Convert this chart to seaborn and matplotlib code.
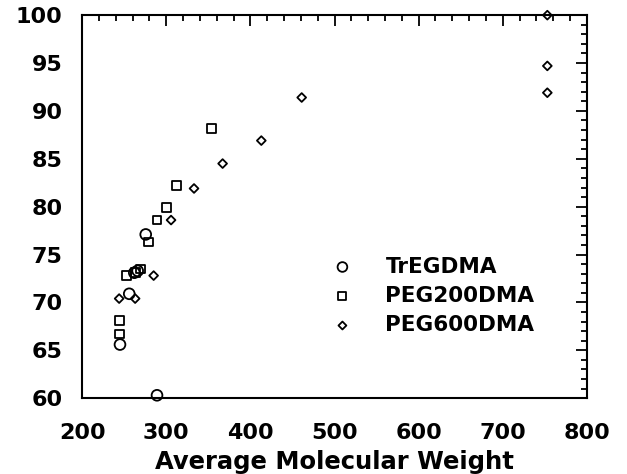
import matplotlib
matplotlib.use("Agg")
import matplotlib.pyplot as plt
import seaborn as sns
import pandas as pd
from matplotlib.ticker import MultipleLocator

# Data
tregdma_mw = [245, 256, 262, 266, 275.6, 289]
tregdma_val = [65.6, 70.9, 73.1, 73.3, 77.1, 60.3]

peg200_mw = [244, 244, 253, 263, 269, 278.8, 289, 300, 312.5, 354]
peg200_val = [66.7, 68.1, 72.8, 73.1, 73.5, 76.3, 78.6, 79.9, 82.2, 88.2]

peg600_mw = [244, 263, 285, 305.7, 333, 367, 413, 461, 753, 753, 753]
peg600_val = [70.4, 70.4, 72.8, 78.6, 81.9, 84.5, 86.9, 91.4, 91.9, 94.7, 100.0]

series_names = ["TrEGDMA", "PEG200DMA", "PEG600DMA"]
x_ticks = [200, 300, 400, 500, 600, 700, 800]
y_ticks = [60, 65, 70, 75, 80, 85, 90, 95, 100]
x_label = "Average Molecular Weight"

sns.set_theme(style="white")
plt.rcParams["font.family"] = ["DejaVu Sans"]
plt.rcParams["text.color"] = "black"
plt.rcParams["xtick.color"] = "black"
plt.rcParams["ytick.color"] = "black"
plt.rcParams["axes.labelcolor"] = "black"

fig = plt.figure(figsize=(6.27, 4.74), dpi=100)
ax = fig.add_axes([0.131, 0.160, 0.805, 0.808])

specs = [
    (tregdma_mw, tregdma_val, "o", 60),
    (peg200_mw, peg200_val, "s", 40),
    (peg600_mw, peg600_val, "D", 20),
]
for (xs, ys, mk, s), name in zip(specs, series_names):
    df = pd.DataFrame({"mw": xs, "val": ys})
    sns.scatterplot(data=df, x="mw", y="val", marker=mk, s=s,
                    facecolors="none", edgecolors="black", linewidths=1.3,
                    label=name, ax=ax, clip_on=False, zorder=3)

ax.set_xlim(200, 800)
ax.set_ylim(60, 100)
ax.set_xticks(x_ticks)
ax.set_yticks(y_ticks)
ax.xaxis.set_minor_locator(MultipleLocator(20))
ax.yaxis.set_minor_locator(MultipleLocator(1))
ax.tick_params(which="both", direction="in", top=True, right=True,
               color="black", width=1.3, labelcolor="black")
ax.tick_params(which="major", length=8)
ax.tick_params(which="minor", length=4)
ax.tick_params(axis="x", which="major", pad=18, labelsize=16)
ax.tick_params(axis="y", which="major", pad=14, labelsize=16)
for lab in ax.get_xticklabels() + ax.get_yticklabels():
    lab.set_fontweight("bold")
for sp in ax.spines.values():
    sp.set_visible(True)
    sp.set_color("black")
    sp.set_linewidth(1.5)

ax.set_xlabel(x_label, fontsize=17.5, fontweight="bold", color="black")
ax.xaxis.set_label_coords(0.5, -0.135)
ax.set_ylabel("")

leg = ax.legend(loc="upper left", bbox_to_anchor=(0.456, 0.392), frameon=False,
                prop={"size": 15.5, "weight": "bold"}, handletextpad=1.0,
                labelspacing=0.43, markerscale=0.9, borderaxespad=0)
for t in leg.get_texts():
    t.set_color("black")

fig.savefig("out.png", dpi=100)
